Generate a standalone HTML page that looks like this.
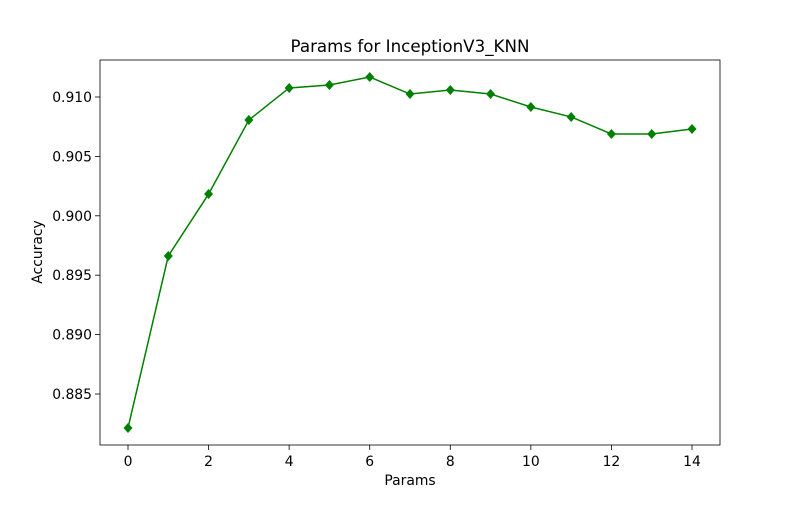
<!DOCTYPE html>
<html><head><meta charset="utf-8"><style>
body{margin:0;background:#fff;}
svg text{font-family:"DejaVu Sans","Liberation Sans",sans-serif;fill:#000;}
</style></head><body>
<svg id="chart" width="800" height="500" xmlns="http://www.w3.org/2000/svg">
<rect width="800" height="500" fill="#fff"/>
<text x="410" y="52" font-size="16.7" text-anchor="middle">Params for InceptionV3_KNN</text>
<g id="axes"></g>
<text x="410" y="485" font-size="13.9" text-anchor="middle">Params</text>
<text transform="translate(42,252) rotate(-90)" font-size="13.9" text-anchor="middle">Accuracy</text>
</svg>
<script>
const params=[0,1,2,3,4,5,6,7,8,9,10,11,12,13,14];
const accuracy=[0.88214,0.89662,0.90183,0.90806,0.91076,0.91101,0.91168,0.91025,0.91059,0.91025,0.90916,0.90832,0.90689,0.90689,0.90731];
const xTicks=[0,2,4,6,8,10,12,14];
const yTicks=[0.885,0.890,0.895,0.900,0.905,0.910];
const L=100,R=720,T=60,B=445;
const xs=v=>128+(v-0)*(692-128)/14;
const ys=v=>97+(0.910-v)/0.005*59.4;
const NS="http://www.w3.org/2000/svg";
const g=document.getElementById('axes');
function mk(t,a){const e=document.createElementNS(NS,t);for(const k in a)e.setAttribute(k,a[k]);g.appendChild(e);return e;}
xTicks.forEach(v=>{
 const l=mk('line',{x1:xs(v),x2:xs(v),y1:B,y2:B+5,stroke:'#000','stroke-width':0.8});
 
 
 const t=mk('text',{x:xs(v),y:B+21,'font-size':13.9,'text-anchor':'middle'});t.textContent=v;
 
 
});
yTicks.forEach(v=>{
 const l=mk('line',{x1:L-5,x2:L,y1:ys(v),y2:ys(v),stroke:'#000','stroke-width':0.8});
 
 
 const t=mk('text',{x:L-8,y:ys(v)+5,'font-size':13.9,'text-anchor':'end'});t.textContent=v.toFixed(3);
 
 
});
const line=mk('polyline',{points:params.map((p,i)=>xs(p)+','+ys(accuracy[i])).join(' '),fill:'none',stroke:'#008000','stroke-width':1.5});


params.forEach((p,i)=>{
 const x=xs(p),y=ys(accuracy[i]);
 const m=mk('polygon',{points:`${x},${y-5} ${x+4.5},${y} ${x},${y+5} ${x-4.5},${y}`,fill:'#008000'});
 
 
});
const f=mk('rect',{x:L,y:T,width:R-L,height:B-T,fill:'none',stroke:'#000','stroke-width':0.8});


</script>
</body></html>
